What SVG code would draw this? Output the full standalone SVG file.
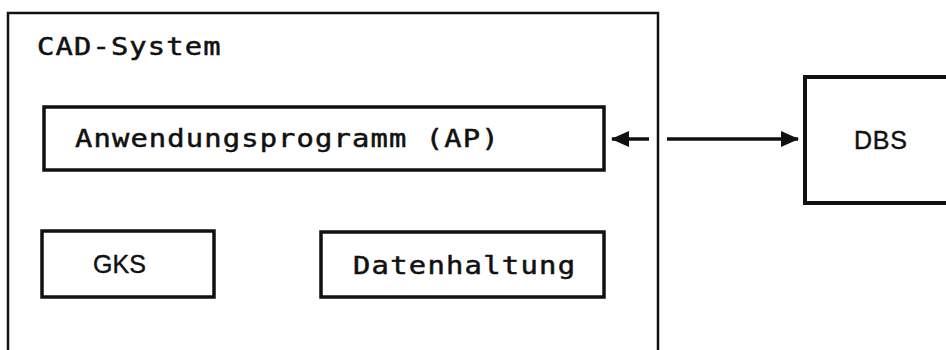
<svg xmlns="http://www.w3.org/2000/svg" width="946" height="350" viewBox="0 0 946 350">
<style>
.box{fill:none;stroke:#111;stroke-width:3.5}
.outer{fill:none;stroke:#111;stroke-width:2.5}
.mono{font-family:"DejaVu Sans Mono","Liberation Mono",monospace;font-size:24px;fill:#111;stroke:#111;stroke-width:0.5}
.sans{font-family:"Liberation Sans",Arial,sans-serif;font-size:25px;fill:#111;stroke:#111;stroke-width:0.4}
.conn{stroke:#111;stroke-width:3.5;fill:none}
</style>
<defs>
<marker id="ah" markerWidth="18" markerHeight="16" refX="17" refY="8" orient="auto" markerUnits="userSpaceOnUse">
<path d="M0,0 L18,8 L0,16 Z" fill="#111"/>
</marker>
</defs>
<g id="cad-system">
<path class="outer" d="M8,352 L8,13 L658,13 L658,352"/>
<text class="mono" transform="translate(37,55) scale(1.2,1)" x="0" y="0" textLength="153" lengthAdjust="spacing">CAD-System</text>
</g>
<g id="ap">
<rect class="box" x="44" y="107" width="560" height="63"/>
<text class="mono" transform="translate(75,147) scale(1.2,1)" x="0" y="0" textLength="353" lengthAdjust="spacing">Anwendungsprogramm (AP)</text>
</g>
<g id="gks">
<rect class="box" x="42" y="231" width="172" height="66"/>
<text class="sans" x="93" y="273" textLength="53" lengthAdjust="spacing">GKS</text>
</g>
<g id="datenhaltung">
<rect class="box" x="321" y="232" width="283" height="65"/>
<text class="mono" transform="translate(353,274) scale(1.2,1)" x="0" y="0" textLength="185" lengthAdjust="spacing">Datenhaltung</text>
</g>
<g id="dbs">
<path class="box" d="M950,77 L805,77 L805,203 L950,203" style="stroke-width:4"/>
<text class="sans" x="854" y="149" textLength="53" lengthAdjust="spacing">DBS</text>
</g>
<g id="connectors">
<line class="conn" x1="649" y1="139" x2="612" y2="139" marker-end="url(#ah)"/>
<line class="conn" x1="667" y1="139" x2="798" y2="139" marker-end="url(#ah)"/>
</g>
</svg>
